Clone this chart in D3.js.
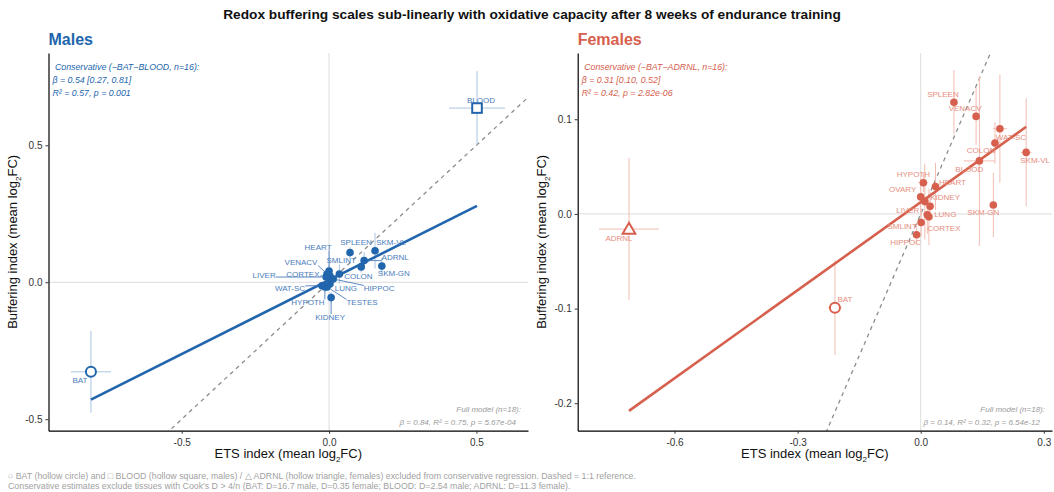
<!DOCTYPE html>
<html>
<head>
<meta charset="utf-8">
<script src="https://cdn.jsdelivr.net/npm/d3@7"></script>
<style>
  body { margin: 0; background: #fff; }
  text { font-family: "Liberation Sans", Arial, Helvetica, sans-serif; }
</style>
</head>
<body>
<svg id="chart" width="1054" height="492"></svg>
<script>
// ---- Data: tissue-level ETS and buffering indices (mean log2FC) with uncertainty ----
const maleTissues = ["ADRNL","BAT","BLOOD","COLON","CORTEX","HEART","HIPPOC","HYPOTH","KIDNEY",
                     "LIVER","LUNG","SKM-GN","SKM-VL","SMLINT","SPLEEN","TESTES","VENACV","WAT-SC"];
const maleEts   = [0.119,-0.808,0.502,0.035,0.003,0.000,0.014,-0.014,0.007,
                   -0.010,0.003,0.179,0.156,0.109,0.071,-0.007,-0.007,-0.024];
const maleBuf   = [0.079,-0.327,0.636,0.030,0.023,0.041,0.012,-0.017,-0.056,
                   0.019,-0.006,0.059,0.115,0.056,0.108,-0.017,0.030,-0.013];
const maleEtsErr = [0.012,0.068,0.095,0.012,0.010,0.010,0.010,0.012,0.010,
                    0.010,0.010,0.010,0.010,0.012,0.010,0.010,0.010,0.012];
const maleBufErr = [0.030,0.149,0.135,0.035,0.015,0.020,0.015,0.020,0.020,
                    0.015,0.015,0.030,0.065,0.020,0.020,0.015,0.015,0.015];

const femaleTissues = ["ADRNL","BAT","BLOOD","COLON","CORTEX","HEART","HIPPOC","HYPOTH","KIDNEY",
                       "LIVER","LUNG","OVARY","SKM-GN","SKM-VL","SMLINT","SPLEEN","VENACV","WAT-SC"];
const femaleEts   = [-0.711,-0.209,0.143,0.181,0.020,0.036,-0.010,0.0065,0.023,
                     0.010,0.016,0.000,0.177,0.257,0.001,0.081,0.135,0.193];
const femaleBuf   = [-0.016,-0.099,0.056,0.075,-0.003,0.029,-0.022,0.033,0.008,
                     0.013,-0.001,0.018,0.0095,0.065,-0.009,0.118,0.103,0.090];
const femaleEtsErr = [0.073,0.017,0.038,0.010,0.006,0.008,0.008,0.012,0.006,
                      0.006,0.006,0.010,0.005,0.013,0.005,0.006,0.006,0.017];
const femaleBufErr = [0.075,0.050,0.090,0.022,0.030,0.025,0.010,0.010,0.015,
                      0.040,0.020,0.020,0.034,0.057,0.015,0.034,0.030,0.057];

// Conservative regression fits (slope, intercept)
const maleFit   = [0.54, 0.008];
const femaleFit = [0.31, 0.0124];

// Excluded tissues and their hollow marker shapes
const maleExcluded   = [["BAT","circle"],["BLOOD","square"]];
const femaleExcluded = [["BAT","circle"],["ADRNL","triangle"]];

// Axis ticks
const maleXTicks = [-0.5, 0.0, 0.5];
const maleYTicks = [-0.5, 0.0, 0.5];
const femaleXTicks = [-0.6, -0.3, 0.0, 0.3];
const femaleYTicks = [-0.2, -0.1, 0.0, 0.1];

// Text annotations
const maleNote   = [" Conservative (\u2212BAT\u2212BLOOD, n=16):", "\u03B2 = 0.54 [0.27, 0.81]", "R\u00B2 = 0.57, p = 0.001"];
const femaleNote = [" Conservative (\u2212BAT\u2212ADRNL, n=16):", "\u03B2 = 0.31 [0.10, 0.52]", "R\u00B2 = 0.42, p = 2.82e-06"];
const maleFull   = ["Full model (n=18):", "\u03B2 = 0.84, R\u00B2 = 0.75, p = 5.67e-04"];
const femaleFull = ["Full model (n=18):", "\u03B2 = 0.14, R\u00B2 = 0.32, p = 6.54e-12"];

// ---- Layout: label nudges (px) for repelled tissue labels ----
const maleNudge = {
  "ADRNL":[31,-3], "BAT":[-11,9], "BLOOD":[4,-8], "COLON":[19,2], "CORTEX":[-27,-1],
  "HEART":[-11,-24], "HIPPOC":[46,10], "HYPOTH":[-17,16], "KIDNEY":[-1,20], "LIVER":[-62,-2],
  "LUNG":[16,5], "SKM-GN":[12,7], "SKM-VL":[16,-8], "SMLINT":[-20,-6], "SPLEEN":[6,-10],
  "TESTES":[35,16], "VENACV":[-26,-12], "WAT-SC":[-32,3]
};
const femaleNudge = {
  "ADRNL":[-10,9], "BAT":[10,-8], "BLOOD":[-10,9], "COLON":[-14,8], "CORTEX":[15,12],
  "HEART":[17,-4], "HIPPOC":[-11,8], "HYPOTH":[-10,-8], "KIDNEY":[15,-9], "LIVER":[-17,9],
  "LUNG":[18,0], "OVARY":[-18,-7], "SKM-GN":[-10,8], "SKM-VL":[9,8], "SMLINT":[-19,4],
  "SPLEEN":[-11,-8], "VENACV":[-11,-8], "WAT-SC":[11,9]
};

const svg = d3.select("#chart");

// Main title
svg.append("text")
  .attr("x", 532).attr("y", 19)
  .attr("text-anchor", "middle")
  .attr("font-size", 13.7).attr("font-weight", "bold").attr("fill", "#111")
  .text("Redox buffering scales sub-linearly with oxidative capacity after 8 weeks of endurance training");

function axisTitle(g, x, y, rotate, label) {
  const t = g.append("text")
    .attr("text-anchor", "middle")
    .attr("font-size", 13).attr("fill", "#111")
    .attr("transform", `translate(${x},${y})` + (rotate ? " rotate(-90)" : ""));
  t.append("tspan").text(label + " (mean log");
  t.append("tspan").attr("font-size", 8).attr("dy", 4).text("2");
  t.append("tspan").attr("dy", -4).text("FC)");
}

function panel(cfg) {
  const g = svg.append("g");
  const x = d3.scaleLinear().domain(cfg.xDomain).range([cfg.left, cfg.right]);
  const y = d3.scaleLinear().domain(cfg.yDomain).range([cfg.bottom, cfg.top]);

  const clipId = "clip-" + cfg.id;
  svg.append("clipPath").attr("id", clipId)
    .append("rect").attr("x", cfg.left).attr("y", cfg.top)
    .attr("width", cfg.right - cfg.left).attr("height", cfg.bottom - cfg.top);
  const plot = g.append("g").attr("clip-path", `url(#${clipId})`);

  // Panel heading
  g.append("text").attr("x", cfg.left).attr("y", 45)
    .attr("font-size", 16).attr("font-weight", "bold").attr("fill", cfg.color)
    .text(cfg.title);

  // Zero reference lines
  plot.append("line").attr("x1", x(0)).attr("x2", x(0)).attr("y1", cfg.top).attr("y2", cfg.bottom)
    .attr("stroke", "#dcdcdc").attr("stroke-width", 1);
  plot.append("line").attr("x1", cfg.left).attr("x2", cfg.right).attr("y1", y(0)).attr("y2", y(0))
    .attr("stroke", "#dcdcdc").attr("stroke-width", 1);

  // 1:1 reference
  const lo = Math.min(cfg.xDomain[0], cfg.yDomain[0]), hi = Math.max(cfg.xDomain[1], cfg.yDomain[1]);
  plot.append("line").attr("x1", x(lo)).attr("y1", y(lo)).attr("x2", x(hi)).attr("y2", y(hi))
    .attr("stroke", "#8c8c8c").attr("stroke-width", 1.3).attr("stroke-dasharray", "4,4");

  const data = cfg.tissues.map((t, i) => ({
    name: t, ets: cfg.ets[i], buf: cfg.buf[i], ex: cfg.etsErr[i], ey: cfg.bufErr[i],
    shape: (cfg.excluded.find(e => e[0] === t) || [null, null])[1]
  }));

  // Error bars
  const eb = plot.append("g").attr("stroke", cfg.errColor).attr("stroke-width", 1);
  data.forEach(d => {
    eb.append("line").attr("x1", x(d.ets)).attr("x2", x(d.ets))
      .attr("y1", y(d.buf - d.ey)).attr("y2", y(d.buf + d.ey));
    eb.append("line").attr("x1", x(d.ets - d.ex)).attr("x2", x(d.ets + d.ex))
      .attr("y1", y(d.buf)).attr("y2", y(d.buf));
  });

  // Conservative regression line across the observed ETS range
  const [xmin, xmax] = d3.extent(cfg.ets);
  const fit = v => cfg.fit[0] * v + cfg.fit[1];
  plot.append("line")
    .attr("x1", x(xmin)).attr("y1", y(fit(xmin)))
    .attr("x2", x(xmax)).attr("y2", y(fit(xmax)))
    .attr("stroke", cfg.color).attr("stroke-width", 2.6).attr("stroke-linecap", "butt");

  // Labels with leader segments
  const lab = g.append("g");
  const seg = g.insert("g", () => lab.node());
  data.forEach(d => {
    const px = x(d.ets), py = y(d.buf);
    const n = cfg.nudge[d.name] || [0, 0];
    const t = lab.append("text")
      .attr("x", px + n[0]).attr("y", py + n[1])
      .attr("text-anchor", "middle").attr("dominant-baseline", "central")
      .attr("font-size", 8).attr("fill", cfg.labelColor)
      .text(d.name);
    const bb = t.node().getBBox();
    // point on label box nearest to the marker
    const cx = Math.max(bb.x, Math.min(px, bb.x + bb.width));
    const cy = Math.max(bb.y + 1, Math.min(py, bb.y + bb.height - 1));
    const len = Math.hypot(cx - px, cy - py);
    if (len > 9 && !d.shape) {
      const ux = (cx - px) / len, uy = (cy - py) / len;
      seg.append("line")
        .attr("x1", px + ux * 4).attr("y1", py + uy * 4)
        .attr("x2", cx).attr("y2", cy)
        .attr("stroke", cfg.labelColor).attr("stroke-width", 0.9);
    }
  });

  // Markers
  const mk = g.append("g");
  data.forEach(d => {
    const px = x(d.ets), py = y(d.buf);
    if (!d.shape) {
      mk.append("circle").attr("cx", px).attr("cy", py).attr("r", 3.8).attr("fill", cfg.color);
    } else if (d.shape === "circle") {
      mk.append("circle").attr("cx", px).attr("cy", py).attr("r", 5)
        .attr("fill", "#fff").attr("stroke", cfg.color).attr("stroke-width", 2);
    } else if (d.shape === "square") {
      mk.append("rect").attr("x", px - 4.8).attr("y", py - 4.8).attr("width", 9.6).attr("height", 9.6)
        .attr("fill", "#fff").attr("stroke", cfg.color).attr("stroke-width", 2);
    } else {
      const sym = d3.symbol().type(d3.symbolTriangle).size(70);
      mk.append("path").attr("d", sym()).attr("transform", `translate(${px},${py + 1})`)
        .attr("fill", "#fff").attr("stroke", cfg.color).attr("stroke-width", 2);
    }
  });
  // keep labels above markers
  lab.raise();

  // Axes
  const xa = g.append("g").attr("transform", `translate(0,${cfg.bottom})`)
    .call(d3.axisBottom(x).tickValues(cfg.xTicks).tickSize(3).tickSizeOuter(0)
      .tickFormat(d3.format(".1f")));
  const ya = g.append("g").attr("transform", `translate(${cfg.left},0)`)
    .call(d3.axisLeft(y).tickValues(cfg.yTicks).tickSize(3).tickSizeOuter(0)
      .tickFormat(d3.format(".1f")));
  [xa, ya].forEach(a => {
    a.select(".domain").attr("stroke", "#000").attr("stroke-width", 1.2);
    a.selectAll(".tick line").attr("stroke", "#333");
    a.selectAll(".tick text").attr("font-size", 10).attr("fill", "#333")
      .attr("font-family", "'Liberation Sans', Arial, sans-serif")
      .text(function(v) { return d3.format(".1f")(v).replace("\u2212", "-"); });
  });
  xa.selectAll(".tick text").attr("dy", "0.9em");

  axisTitle(g, (cfg.left + cfg.right) / 2, 458, false, "ETS index");
  axisTitle(g, cfg.left - 32, (cfg.top + cfg.bottom) / 2, true, "Buffering index");

  // Conservative-fit annotation
  cfg.note.forEach((s, i) => {
    g.append("text").attr("x", cfg.left + 4).attr("y", 70 + i * 13)
      .attr("font-size", 8.8).attr("font-style", "italic").attr("fill", cfg.color)
      .attr("xml:space", "preserve").style("white-space", "pre")
      .text(s);
  });
  // Full-model annotation
  cfg.full.forEach((s, i) => {
    g.append("text").attr("x", cfg.right - 7 - (i === 1 ? 5 : 0)).attr("y", 412 + i * 13)
      .attr("text-anchor", "end")
      .attr("font-size", 8).attr("font-style", "italic").attr("fill", "#9a9a9a")
      .text(s);
  });
}

panel({
  id: "m", title: "Males", color: "#2166ac", labelColor: "#4a7dbd", errColor: "#a9c4e3",
  left: 48.5, right: 528, top: 53, bottom: 430.7,
  xDomain: [-0.952, 0.675], yDomain: [-0.542, 0.837],
  tissues: maleTissues, ets: maleEts, buf: maleBuf, etsErr: maleEtsErr, bufErr: maleBufErr,
  fit: maleFit, excluded: maleExcluded, nudge: maleNudge,
  xTicks: maleXTicks, yTicks: maleYTicks, note: maleNote, full: maleFull
});

panel({
  id: "f", title: "Females", color: "#d6604d", labelColor: "#e68e7e", errColor: "#f2bdb3",
  left: 577.7, right: 1052, top: 53, bottom: 430.7,
  xDomain: [-0.836, 0.32], yDomain: [-0.229, 0.170],
  tissues: femaleTissues, ets: femaleEts, buf: femaleBuf, etsErr: femaleEtsErr, bufErr: femaleBufErr,
  fit: femaleFit, excluded: femaleExcluded, nudge: femaleNudge,
  xTicks: femaleXTicks, yTicks: femaleYTicks, note: femaleNote, full: femaleFull
});

// Footnote
const foot = [
  "\u25CB BAT (hollow circle) and \u25A1 BLOOD (hollow square, males) / \u25B3 ADRNL (hollow triangle, females) excluded from conservative regression. Dashed = 1:1 reference.",
  "Conservative estimates exclude tissues with Cook's D > 4/n (BAT: D=16.7 male, D=0.35 female; BLOOD: D=2.54 male; ADRNL: D=11.3 female)."
];
foot.forEach((s, i) => {
  svg.append("text").attr("x", 8).attr("y", 479 + i * 9.5)
    .attr("font-size", 8.8).attr("fill", "#9f9f9f").text(s);
});
</script>
</body>
</html>
